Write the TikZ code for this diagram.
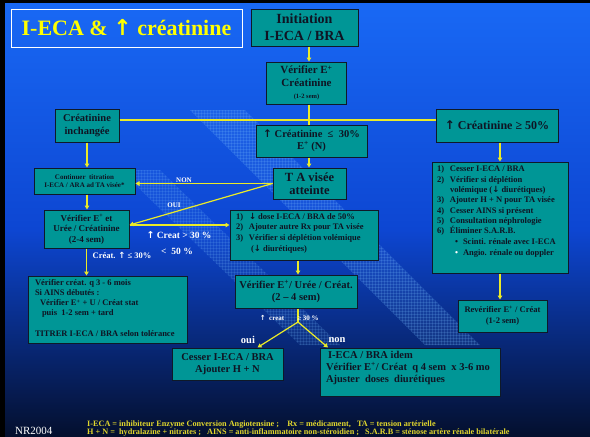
\documentclass[tikz,border=0pt]{standalone}
\usepackage{fontspec}
\setmainfont{Liberation Serif}
\newfontfamily\symfont{DejaVu Sans}
\usetikzlibrary{arrows.meta,patterns,calc}
\definecolor{boxfill}{RGB}{0,150,150}
\definecolor{boxline}{RGB}{15,25,40}
\definecolor{boxtext}{RGB}{15,20,35}
\definecolor{wirecol}{RGB}{235,235,40}
\definecolor{titleyellow}{RGB}{255,255,0}
\definecolor{footyellow}{RGB}{225,215,45}
\definecolor{bgtop}{RGB}{25,105,245}
\definecolor{bgmid}{RGB}{13,70,210}
\definecolor{bgbot}{RGB}{4,15,45}
\definecolor{bandcol}{RGB}{120,190,255}
\newcommand\fz[2]{\fontsize{#1}{#2}\selectfont}
\newcommand\itm[1]{\makebox[13pt][l]{#1}}
\newcommand\uparr{{\symfont\bfseries ↑}}
\newcommand\dnarr{{\symfont\bfseries ↓}}

\begin{document}
\begin{tikzpicture}[x=1pt,y=-1pt,
  box/.style={draw=boxline, line width=1pt, fill=boxfill, text=boxtext,
    inner sep=0pt, align=center, font=\bfseries},
  conn/.style={draw=wirecol, line width=1.2pt},
  arr/.style={conn, -{Triangle[length=4pt,width=4.5pt]}},
  note/.style={text=white, inner sep=0pt, font=\bfseries},
]
\useasboundingbox (0,0) rectangle (590,437);

% background
\shade[top color=bgtop, bottom color=bgmid] (0,0) rectangle (590,230);
\shade[top color=bgmid, bottom color=bgbot] (0,229.5) rectangle (590,437);
\fill[bandcol, opacity=0.10] (190,110) -- (245,110) -- (480,345) -- (425,345) -- cycle;
\fill[pattern=grid, pattern color=bandcol, opacity=0.18] (190,110) -- (245,110) -- (480,345) -- (425,345) -- cycle;
\fill[bandcol, opacity=0.07] (120,170) -- (160,170) -- (340,345) -- (300,345) -- cycle;
\fill[pattern=grid, pattern color=bandcol, opacity=0.15] (120,170) -- (160,170) -- (340,345) -- (300,345) -- cycle;
\fill[black] (0,0) rectangle (5,437);
\fill[black] (0,0) rectangle (590,2.5);

% title
\node[draw=white, line width=0.8pt, minimum width=231, minimum height=38, inner sep=0pt,
  text=titleyellow, font=\fz{22}{26}\bfseries] (title) at (126.5,28) {I-ECA \& {\symfont ↑} créatinine};

% boxes
\node[box, minimum width=107, minimum height=37, font=\fz{14}{17}\bfseries] (init) at (304.5,27.5)
  {Initiation\\I-ECA / BRA};
\node[box, minimum width=80, minimum height=42, font=\fz{11}{12.5}\bfseries] (verif1) at (306.5,83)
  {Vérifier E\textsuperscript{+}\\Créatinine\\{\fz{6.5}{8}(1-2 sem)}};
\node[box, minimum width=64, minimum height=33, font=\fz{10.5}{13}\bfseries] (inch) at (87,125.5)
  {Créatinine\\inchangée};
\node[box, minimum width=111, minimum height=32, font=\fz{10.5}{12}\bfseries] (le30) at (311.5,141)
  {\uparr\ Créatinine \ ≤ \ 30\%\\E\textsuperscript{+} (N)};
\node[box, minimum width=122, minimum height=33, font=\fz{12}{14}\bfseries] (ge50) at (497,125.5)
  {\uparr\ Créatinine ≥ 50\%};
\node[box, minimum width=73, minimum height=31, font=\fz{12.5}{13.5}\bfseries] (ta) at (309.5,183.5)
  {T A visée\\atteinte};
\node[box, minimum width=101, minimum height=26, font=\fz{7}{8.5}\bfseries] (cont) at (84.5,181)
  {Continuer \ titration\\I-ECA / ARA ad TA visée*};
\node[box, minimum width=85, minimum height=38, font=\fz{9}{10.5}\bfseries] (verif2) at (86.5,229)
  {Vérifier E\textsuperscript{+} et\\Urée / Créatinine\\(2-4 sem)};
\node[box, inner xsep=6pt, inner ysep=3pt, font=\fz{8.5}{10.7}\bfseries] (dose) at (304,235)
  {\begin{minipage}[c][44pt][t]{136pt}\raggedright
   \itm{1)}\dnarr\ dose I-ECA / BRA de 50\%\\
   \itm{2)}Ajouter autre Rx pour TA visée\\
   \itm{3)}Vérifier si déplétion volémique\\
   \hspace*{15pt}(\dnarr\ diurétiques)
   \end{minipage}};
\node[box, minimum width=122, minimum height=33, font=\fz{10.5}{12}\bfseries] (verifUree) at (296,291.5)
  {Vérifier E\textsuperscript{+}/ Urée / Créat.\\(2 – 4 sem)};
\node[box, inner xsep=5pt, inner ysep=4pt, font=\fz{8.5}{10.3}\bfseries] (list) at (500,217.5)
  {\begin{minipage}[c][103pt][t]{126pt}\raggedright
   \itm{1)}Cesser I-ECA / BRA\\
   \itm{2)}Vérifier si déplétion\\
   \hspace*{13pt}volémique (\dnarr\ diurétiques)\\
   \itm{3)}Ajouter H + N pour TA visée\\
   \itm{4)}Cesser AINS si présent\\
   \itm{5)}Consultation néphrologie\\
   \itm{6)}Éliminer S.A.R.B.\\[0.5pt]
   \hspace*{18pt}\makebox[8pt][l]{•}Scinti. rénale avec I-ECA\\[0.5pt]
   \hspace*{18pt}\makebox[8pt][l]{\textcolor{white}{•}}Angio. rénale ou doppler
   \end{minipage}};
\node[box, minimum width=89, minimum height=32, font=\fz{8.5}{11}\bfseries] (reverif) at (502.5,316)
  {Revérifier E\textsuperscript{+} / Créat\\(1-2 sem)};
\node[box, inner xsep=7pt, inner ysep=4pt, font=\fz{8.5}{10}\bfseries] (vcreat) at (107.5,309.5)
  {\begin{minipage}[c][59pt][t]{145pt}\raggedright
   Vérifier créat. q 3 - 6 mois\\
   Si AINS débutés :\\
   \hspace*{5pt}Vérifier E\textsuperscript{+} + U / Créat stat\\
   \hspace*{7pt}puis \ 1-2 sem + tard\\[11pt]
   TITRER I-ECA / BRA selon tolérance
   \end{minipage}};
\node[box, minimum width=111, minimum height=32, font=\fz{10.5}{12}\bfseries] (cesser) at (227.5,364)
  {Cesser I-ECA / BRA\\Ajouter H + N};
\node[box, inner xsep=6pt, inner ysep=3pt, font=\fz{10.5}{12}\bfseries] (idem) at (410,372)
  {\begin{minipage}[c][42pt][t]{168pt}\raggedright
   \hspace*{2pt}I-ECA / BRA idem\\
   Vérifier E\textsuperscript{+}/ Créat \ q 4 sem \ x 3-6 mo\\
   Ajuster \ doses \ diurétiques
   \end{minipage}};

% connectors
\coordinate (spine) at (309,0);
\coordinate (rspine) at (500,0);
\coordinate (mid) at (298,0);
\coordinate (hl) at (0,120);
\coordinate (fork) at (298,322);
\coordinate (v2r) at ([yshift=4pt]verif2.east);
\draw[arr] (init.south -| spine) -- (verif1.north -| spine);
\draw[conn] (verif1.south -| spine) -- (le30.north -| spine);
\draw[conn] (inch.east |- hl) -- (ge50.west |- hl);
\draw[arr] (inch.south) -- (cont.north -| inch.south);
\draw[arr] (cont.south -| inch.south) -- (verif2.north -| inch.south);
\draw[arr] (le30.south -| spine) -- (ta.north -| spine);
\draw[arr] (ge50.south -| rspine) -- (list.north -| rspine);
\draw[arr] (list.south -| rspine) -- (reverif.north -| rspine);
\draw[arr] (ta.west) -- (cont.east |- ta.west);
\draw[arr] (ta.west) -- (v2r);
\draw[arr] (v2r) -- (dose.west |- v2r);
\draw[arr] (verif2.south) -- (vcreat.north -| verif2.south);
\draw[arr] (dose.south -| mid) -- (verifUree.north -| mid);
\draw[conn] (verifUree.south -| mid) -- (fork);
\draw[arr] (fork) -- ([xshift=30pt]cesser.north);
\draw[arr] (fork) -- ([xshift=-82pt]idem.north);

% labels on connectors
\node[note, font=\fz{7}{8}\bfseries] (lnon) at (184,180) {NON};
\node[note, font=\fz{7}{8}\bfseries] (loui) at (174,205) {OUI};
\node[note, font=\fz{9.5}{11}\bfseries] (lgt30) at (179,235) {\uparr\ Creat > 30 \%};
\node[note, font=\fz{9.5}{11}\bfseries] (llt50) at (177,251) {< \ 50 \%};
\node[note, font=\fz{8.5}{10}\bfseries] (lle30) at (122,255) {Créat. \uparr\ ≤ 30\%};
\node[note, font=\fz{7}{8}\bfseries] (lcreat) at (272,318) {\uparr\ \ creat};
\node[note, font=\fz{7}{8}\bfseries] (lge30) at (308,318) {≥ 30 \%};
\node[note, font=\fz{10.5}{12}\bfseries] (loui2) at (248,340) {oui};
\node[note, font=\fz{10.5}{12}\bfseries] (lnon2) at (337,340) {non};

% footer
\node[text=white, inner sep=0pt, anchor=base west, font=\fz{11}{12}] (nr) at (15,434.5) {NR2004};
\node[text=footyellow, inner sep=0pt, anchor=base west, font=\fz{8.2}{8}\bfseries] (foot1) at (87,426)
  {I-ECA = inhibiteur Enzyme Conversion Angiotensine ; \ \ \ Rx = médicament, \ \ TA = tension artérielle};
\node[text=footyellow, inner sep=0pt, anchor=base west, font=\fz{8.2}{8}\bfseries] (foot2) at (87,434.5)
  {H + N = \ hydralazine + nitrates ; \ \ AINS = anti-inflammatoire non-stéroïdien ; \ \ S.A.R.B = sténose artère rénale bilatérale};
\end{tikzpicture}
\end{document}
